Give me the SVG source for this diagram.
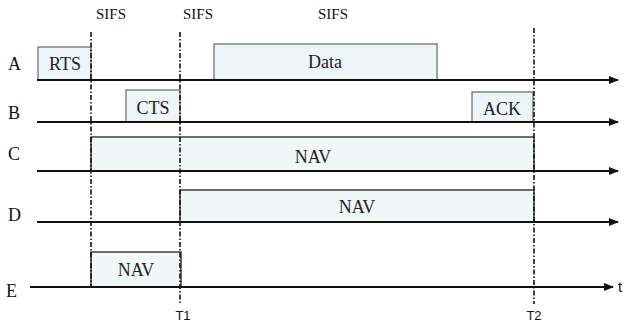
<svg xmlns="http://www.w3.org/2000/svg" width="629" height="326" viewBox="0 0 629 326">
<style>
.lbl{font-family:"Liberation Serif","Times New Roman",serif;font-size:18px;fill:#111}
.sifs{font-family:"Liberation Serif","Times New Roman",serif;font-size:15px;fill:#111;text-anchor:middle}
.bt{font-family:"Liberation Serif","Times New Roman",serif;font-size:18px;fill:#222;text-anchor:middle}
.tl{font-family:"Liberation Sans",Arial,sans-serif;font-size:13px;fill:#111;text-anchor:middle}
.frame{fill:#eef5f6;stroke:#666;stroke-width:1.2}
.nav{fill:#f1f6f6;stroke:#111;stroke-width:1.2}
.axis{stroke:#111;stroke-width:2.2;fill:none}
.dash{stroke:#111;stroke-width:1.6;stroke-dasharray:5,2,1.5,2;fill:none}
</style>
<defs>
<marker id="arr" markerWidth="10" markerHeight="10" refX="9" refY="5" orient="auto" markerUnits="userSpaceOnUse">
<path d="M0,1 L10,5 L0,9 Z" fill="#111"/>
</marker>
</defs>
<g id="labels">
<text class="lbl" x="8" y="70">A</text>
<text class="lbl" x="8" y="119">B</text>
<text class="lbl" x="8" y="160">C</text>
<text class="lbl" x="8" y="221">D</text>
<text class="lbl" x="6" y="297">E</text>
<text class="sifs" x="111" y="19">SIFS</text>
<text class="sifs" x="198" y="19">SIFS</text>
<text class="sifs" x="333" y="19">SIFS</text>
<text class="tl" x="183" y="320">T1</text>
<text class="tl" x="534" y="320">T2</text>
<text x="618" y="292" style="font-family:'Liberation Sans',Arial,sans-serif;font-size:15px;fill:#111">t</text>
</g>
<g id="rts"><rect class="frame" x="38" y="47" width="53" height="33"/><text class="bt" x="65" y="70">RTS</text></g>
<g id="data"><rect class="frame" x="214" y="44" width="223" height="36"/><text class="bt" x="325" y="68">Data</text></g>
<g id="cts"><rect class="frame" x="126" y="90" width="54" height="32"/><text class="bt" x="153" y="114">CTS</text></g>
<g id="ack"><rect class="frame" x="472" y="92" width="61" height="30"/><text class="bt" x="502" y="115">ACK</text></g>
<g id="navC"><rect class="nav" x="91" y="137" width="443" height="34"/><text class="bt" x="313" y="163">NAV</text></g>
<g id="navD"><rect class="nav" x="180" y="190" width="354" height="32"/><text class="bt" x="357" y="213">NAV</text></g>
<g id="navE"><rect class="nav" x="91" y="252" width="90" height="35"/><text class="bt" x="136" y="276">NAV</text></g>
<g id="connectors">
<line class="axis" x1="37" y1="80" x2="618" y2="80" marker-end="url(#arr)"/>
<line class="axis" x1="37" y1="122" x2="618" y2="122" marker-end="url(#arr)"/>
<line class="axis" x1="37" y1="171" x2="618" y2="171" marker-end="url(#arr)"/>
<line class="axis" x1="37" y1="222" x2="618" y2="222" marker-end="url(#arr)"/>
<line class="axis" x1="30" y1="287" x2="613" y2="287" marker-end="url(#arr)"/>
<line class="dash" x1="91" y1="32" x2="91" y2="287"/>
<line class="dash" x1="180" y1="32" x2="180" y2="304"/>
<line class="dash" x1="534" y1="28" x2="534" y2="304"/>
</g>
</svg>
